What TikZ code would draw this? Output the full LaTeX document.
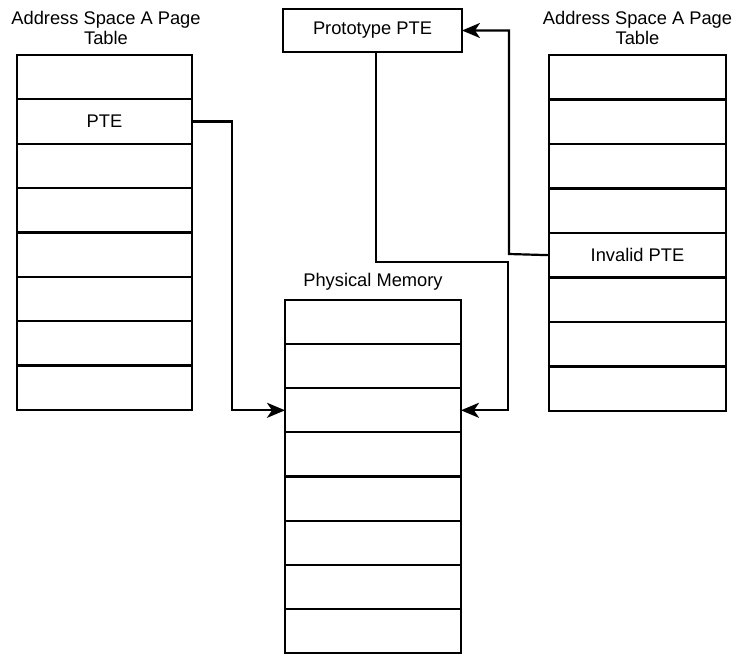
\documentclass[tikz,border=0pt]{standalone}
\usepackage{fontspec}
\setmainfont{Liberation Sans}
\usetikzlibrary{arrows.meta}

\begin{document}
\begin{tikzpicture}[x=1pt,y=-1pt,
  every node/.style={font=\fontsize{18.3}{20.5}\selectfont},
  cell/.style={draw, line width=2.2pt, inner sep=0pt, outer sep=0pt,
               anchor=north west, minimum height=44.3pt},
  ltcell/.style={cell, minimum width=175pt},
  rtcell/.style={cell, minimum width=177pt},
  pmcell/.style={cell, minimum width=176pt, minimum height=44.1pt},
  title/.style={align=center, inner sep=0pt},
  link/.style={line width=2.2pt},
  tip/.style={-{Stealth[length=18pt,width=15pt,inset=5pt]}}
]
\useasboundingbox (0,0) rectangle (736,656);

% left page table
\node[title] (ltitle) at (106,28) {Address Space A Page\\Table};
\foreach \i in {1,...,8} {
  \node[ltcell] (L\i) at (17,{55+(\i-1)*44.375}) {};
}
\node at (L2.center) {PTE};

% right page table
\node[title] (rtitle) at (637.5,28) {Address Space A Page\\Table};
\foreach \i in {1,...,8} {
  \node[rtcell] (R\i) at (549,{55+(\i-1)*44.5}) {};
}
\node at (R5.center) {Invalid PTE};

% physical memory
\node[title] (mtitle) at (373,282) {Physical Memory};
\foreach \i in {1,...,8} {
  \node[pmcell] (M\i) at (285,{300+(\i-1)*44.125}) {};
}

% prototype PTE
\node[cell, minimum width=179pt, minimum height=43pt] (proto) at (283,9) {};
\node at (proto.center) {Prototype PTE};

% bend points
\coordinate (lbend) at (232,0);
\coordinate (pbend) at (508,262);
\coordinate (ibend) at (509,254);

% connectors
\draw[link,tip] (L2.east) -| (lbend |- M3.west) -- (M3.west);
\draw[link,tip] ([xshift=3.5pt]proto.south) |- (pbend) |- (M3.east);
\draw[link,tip] (R5.west) -- (ibend) |- (proto.east);
\end{tikzpicture}
\end{document}
